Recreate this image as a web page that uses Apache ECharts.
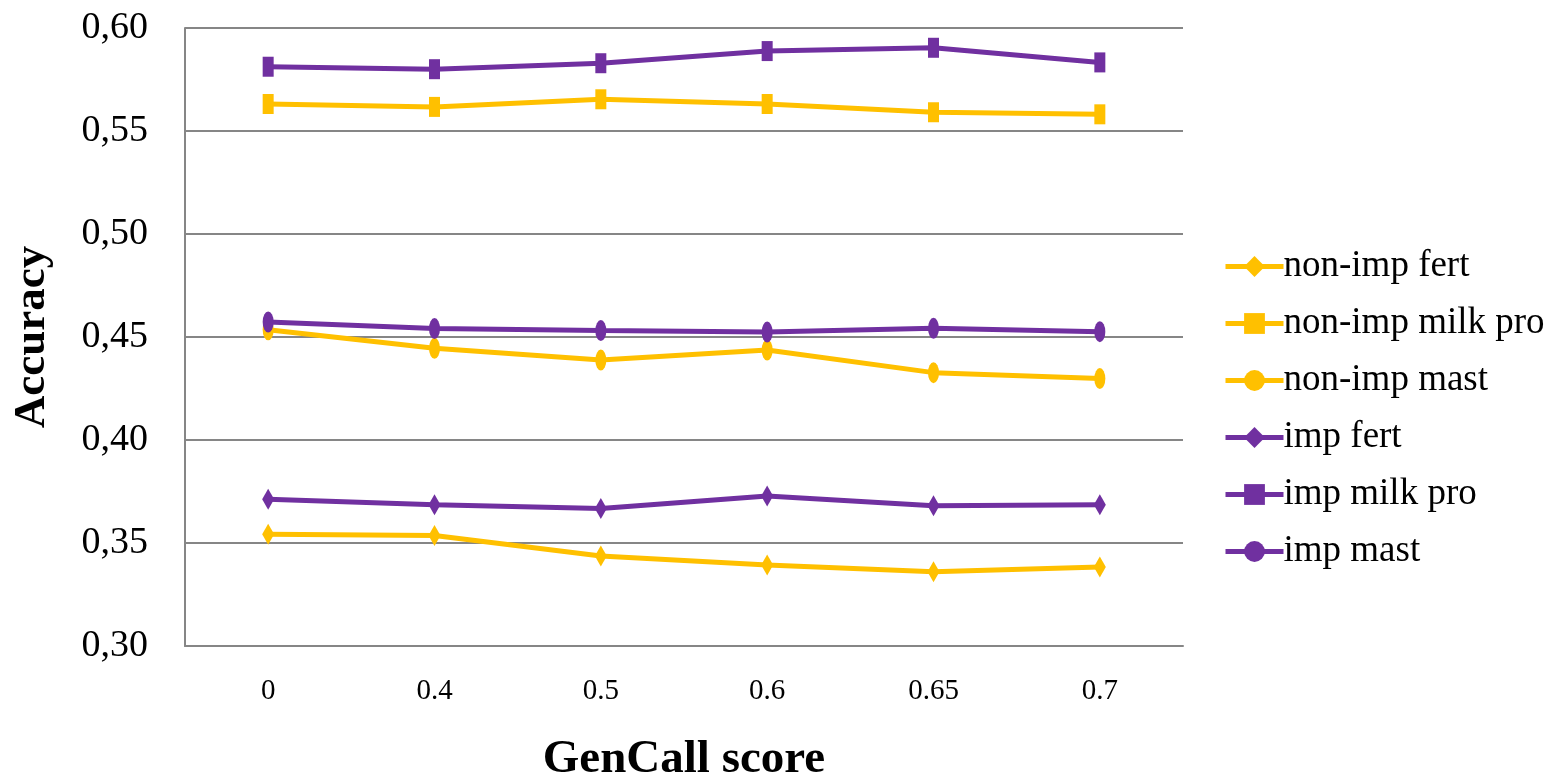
<!DOCTYPE html>
<html>
<head>
<meta charset="utf-8">
<script src="https://cdn.jsdelivr.net/npm/echarts@6/dist/echarts.min.js"></script>
<style>html,body{margin:0;padding:0;background:#fff;}#c{width:1555px;height:780px;}</style>
</head>
<body>
<div id="c"></div>
<script>
const categories = ['0', '0.4', '0.5', '0.6', '0.65', '0.7'];
const nonImpFert = [0.3542, 0.3536, 0.3437, 0.3393, 0.3361, 0.3383];
const nonImpMilkPro = [0.5631, 0.5617, 0.5654, 0.5631, 0.5591, 0.5581];
const nonImpMast = [0.4535, 0.4445, 0.4388, 0.4437, 0.4327, 0.4298];
const impFert = [0.3712, 0.3686, 0.3668, 0.3728, 0.3681, 0.3686];
const impMilkPro = [0.5812, 0.5800, 0.5829, 0.5888, 0.5904, 0.5833];
const impMast = [0.4573, 0.4541, 0.4531, 0.4524, 0.4542, 0.4526];

const YELLOW = '#FFC000';
const PURPLE = '#7030A0';
const FONT = '"Liberation Serif", "Times New Roman", serif';

function mk(name, data, color, symbol, size) {
  return {
    name, type: 'line', data, symbol, symbolSize: size,
    lineStyle: { color, width: 5 },
    itemStyle: { color },
    z: color === PURPLE ? 3 : 2
  };
}

const chart = echarts.init(document.getElementById('c'), null, { renderer: 'canvas' });
chart.setOption({
  animation: false,
  backgroundColor: '#fff',
  grid: { left: 185, right: 372, top: 28, bottom: 134, containLabel: false, outerBoundsMode: 'none' },
  legend: {
    orient: 'vertical',
    left: 1218,
    top: 243,
    itemWidth: 58,
    itemHeight: 26,
    itemGap: 20,
    lineStyle: { width: 5 },
    textStyle: { fontFamily: FONT, fontSize: 37, color: '#000', padding: [0, 0, 0, -5] },
    data: ['non-imp fert', 'non-imp milk pro', 'non-imp mast', 'imp fert', 'imp milk pro', 'imp mast']
  },
  xAxis: {
    type: 'category',
    data: categories,
    boundaryGap: true,
    axisLine: { lineStyle: { color: '#868686', width: 2 } },
    axisTick: { show: false },
    axisLabel: { fontFamily: FONT, fontSize: 29, color: '#000', margin: 31 },
    name: 'GenCall score',
    nameLocation: 'middle',
    nameGap: 90,
    nameTextStyle: { fontFamily: FONT, fontSize: 47, fontWeight: 'bold', color: '#000' }
  },
  yAxis: {
    type: 'value',
    min: 0.30, max: 0.60, interval: 0.05,
    axisLine: { show: true, lineStyle: { color: '#868686', width: 2 } },
    axisTick: { show: false },
    splitLine: { lineStyle: { color: '#868686', width: 2 } },
    axisLabel: {
      fontFamily: FONT, fontSize: 38, color: '#000', margin: 37,
      formatter: v => v.toFixed(2).replace('.', ',')
    },
    name: 'Accuracy',
    nameLocation: 'middle',
    nameGap: 130,
    nameRotate: 90,
    nameTextStyle: { fontFamily: FONT, fontSize: 45, fontWeight: 'bold', color: '#000' }
  },
  series: [
    mk('non-imp fert', nonImpFert, YELLOW, 'diamond', [12, 21]),
    mk('non-imp milk pro', nonImpMilkPro, YELLOW, 'rect', [11, 20]),
    mk('non-imp mast', nonImpMast, YELLOW, 'circle', [11, 21]),
    mk('imp fert', impFert, PURPLE, 'diamond', [12, 21]),
    mk('imp milk pro', impMilkPro, PURPLE, 'rect', [11, 20]),
    mk('imp mast', impMast, PURPLE, 'circle', [11, 21])
  ]
});
</script>
</body>
</html>
